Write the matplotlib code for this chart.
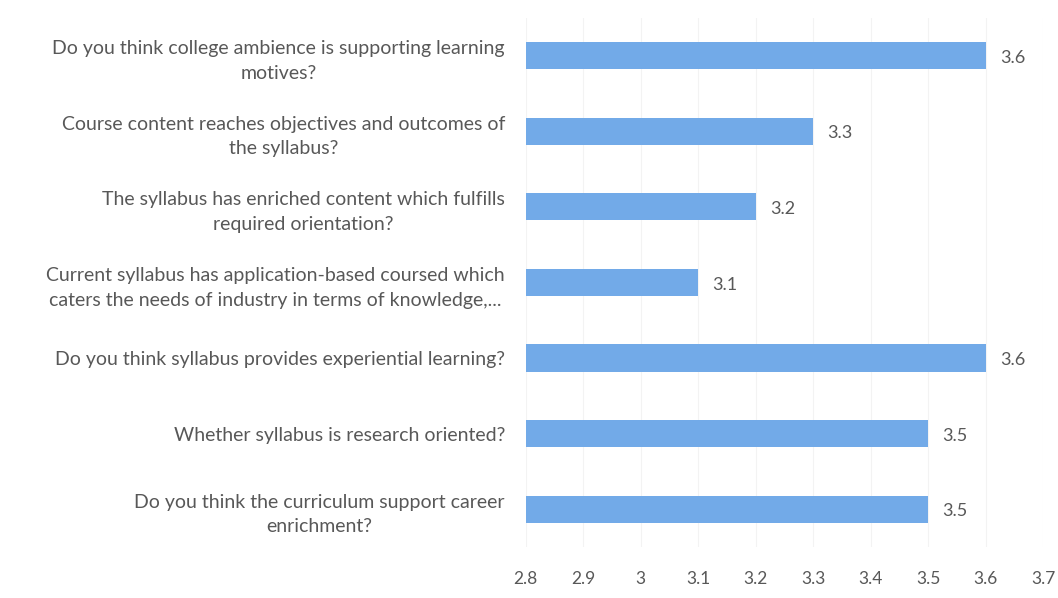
import matplotlib
matplotlib.use("Agg")
import matplotlib.pyplot as plt

questions = [
    "Do you think college ambience is supporting learning\nmotives?",
    "Course content reaches objectives and outcomes of\nthe syllabus?",
    "The syllabus has enriched content which fulfills\nrequired orientation?",
    "Current syllabus has application-based coursed which\ncaters the needs of industry in terms of knowledge,...",
    "Do you think syllabus provides experiential learning?",
    "Whether syllabus is research oriented?",
    "Do you think the curriculum support career\nenrichment?",
]
scores = [3.6, 3.3, 3.2, 3.1, 3.6, 3.5, 3.5]
xticks = [2.8, 2.9, 3.0, 3.1, 3.2, 3.3, 3.4, 3.5, 3.6, 3.7]
xtick_labels = ["2.8", "2.9", "3", "3.1", "3.2", "3.3", "3.4", "3.5", "3.6", "3.7"]

plt.rcParams['font.family'] = ['Lato', 'DejaVu Sans']
text_col = '#585858'

fig = plt.figure(figsize=(10.58, 5.98), dpi=100)
ax = fig.add_axes([0.497, 0.0853, 0.489, 0.885])

ypos = list(range(len(questions)))
ax.barh(ypos, [s - 2.8 for s in scores], left=2.8, height=0.36, color='#72AAE8', zorder=2)
for y, s in zip(ypos, scores):
    ax.text(s + 0.025, y + 0.03, '%g' % s, va='center', ha='left', fontsize=13, color=text_col)

ax.set_xlim(2.8, 3.7)
ax.set_ylim(len(questions) - 0.5, -0.5)
ax.set_xticks(xticks)
ax.set_xticklabels(xtick_labels, fontsize=12.5, color=text_col)
ax.set_yticks(ypos)
ax.set_yticklabels(questions, fontsize=14, color=text_col, multialignment='center',
                   linespacing=1.55)
ax.tick_params(axis='both', length=0)
ax.tick_params(axis='y', pad=15)
ax.tick_params(axis='x', pad=17)
ax.grid(axis='x', color='#F3F3F3', linewidth=0.8, zorder=0)
for sp in ax.spines.values():
    sp.set_visible(False)

fig.savefig('out.png', dpi=100)
